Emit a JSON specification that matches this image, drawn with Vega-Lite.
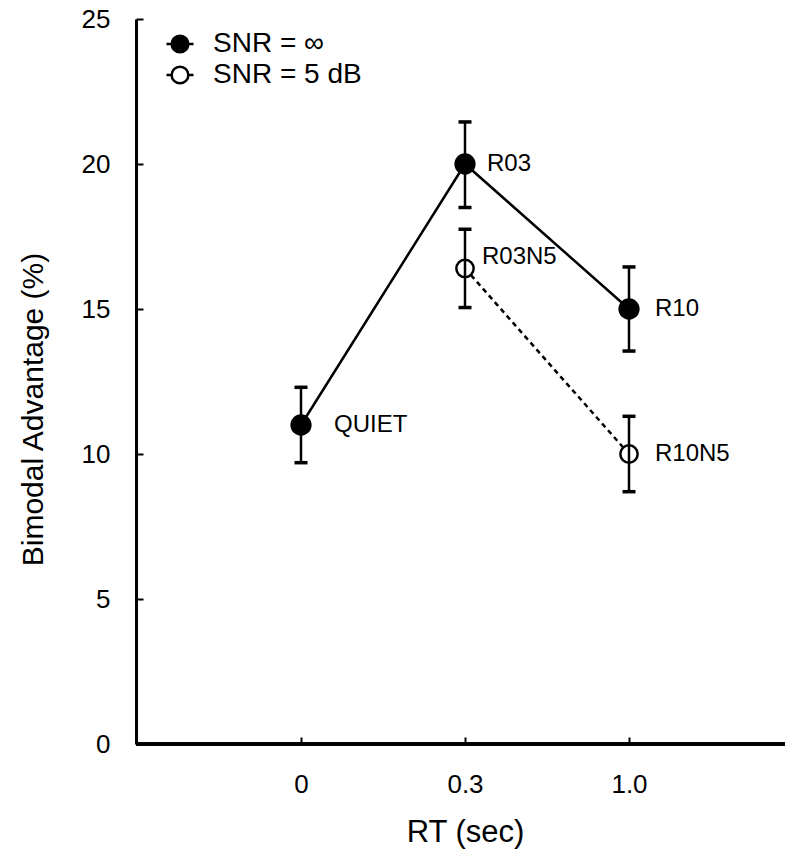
{
  "$schema": "https://vega.github.io/schema/vega-lite/v6.json",
  "autosize": {"type": "none"},
  "padding": {"left": 136, "top": 19, "right": 0, "bottom": 111},
  "width": 649,
  "height": 725,
  "background": "white",
  "config": {
    "view": {"stroke": null},
    "font": "Liberation Sans"
  },
  "data": {
    "values": [
      {"rt": "0", "snr": "SNR = ∞", "label": "QUIET", "adv": 11.0, "lo": 9.7, "hi": 12.3},
      {"rt": "0.3", "snr": "SNR = ∞", "label": "R03", "adv": 20.0, "lo": 18.5, "hi": 21.45},
      {"rt": "1.0", "snr": "SNR = ∞", "label": "R10", "adv": 15.0, "lo": 13.55, "hi": 16.45},
      {"rt": "0.3", "snr": "SNR = 5 dB", "label": "R03N5", "adv": 16.4, "lo": 15.05, "hi": 17.75},
      {"rt": "1.0", "snr": "SNR = 5 dB", "label": "R10N5", "adv": 10.0, "lo": 8.7, "hi": 11.3}
    ]
  },
  "encoding": {
    "x": {
      "field": "rt", "type": "ordinal", "sort": ["0", "0.3", "1.0"],
      "scale": {"type": "point", "range": [165, 493], "padding": 0},
      "axis": {
        "title": "RT (sec)", "titleFontSize": 31, "titleFontWeight": "normal", "titleColor": "black",
        "titlePadding": 20,
        "labelFontSize": 26, "labelColor": "black", "labelAngle": 0, "labelPadding": 34,
        "domain": false, "tickSize": -7, "tickWidth": 2, "tickColor": "black", "grid": false
      }
    }
  },
  "layer": [
    {
      "mark": {"type": "rule", "color": "black", "strokeWidth": 3},
      "encoding": {"x": null, "y": {"datum": 0, "type": "quantitative"}}
    },
    {
      "transform": [{"filter": "datum.snr === 'SNR = ∞'"}],
      "mark": {"type": "line", "color": "black", "strokeWidth": 2.5},
      "encoding": {
        "y": {"field": "adv", "type": "quantitative"}
      }
    },
    {
      "transform": [{"filter": "datum.snr === 'SNR = 5 dB'"}],
      "mark": {"type": "line", "color": "black", "strokeWidth": 2.5, "strokeDash": [5, 4]},
      "encoding": {
        "y": {"field": "adv", "type": "quantitative"}
      }
    },
    {
      "transform": [{"filter": "datum.snr === 'SNR = ∞'"}],
      "mark": {"type": "point", "filled": true, "opacity": 1, "size": 452, "strokeWidth": 0},
      "encoding": {
        "y": {
          "field": "adv", "type": "quantitative",
          "scale": {"domain": [0, 25], "nice": false, "zero": true},
          "axis": {
            "title": "Bimodal Advantage (%)", "titleFontSize": 30, "titleFontWeight": "normal", "titleColor": "black",
            "titlePadding": 33, "titleY": 390,
            "values": [0, 5, 10, 15, 20, 25],
            "labelFontSize": 26, "labelColor": "black", "labelPadding": 33,
            "domainColor": "black", "domainWidth": 3,
            "tickSize": -7, "tickWidth": 2, "tickColor": "black", "grid": false
          }
        },
        "fill": {
          "field": "snr", "type": "nominal",
          "scale": {"domain": ["SNR = ∞", "SNR = 5 dB"], "range": ["black", "white"]},
          "legend": {
            "title": null,
            "orient": "none",
            "legendX": 29,
            "legendY": 10,
            "symbolType": "M-1,0H-0.68M0.68,0H1M-0.62,0A0.62,0.62 0 1 1 0.62,0A0.62,0.62 0 1 1 -0.62,0Z",
            "symbolSize": 729,
            "symbolStrokeColor": "black",
            "symbolStrokeWidth": 2.5,
            "symbolOpacity": 1,
            "labelFontSize": 28,
            "labelColor": "black",
            "labelOffset": 18,
            "rowPadding": 2
          }
        }
      }
    },
    {
      "transform": [{"filter": "datum.snr === 'SNR = 5 dB'"}],
      "mark": {"type": "point", "filled": false, "fill": "white", "opacity": 1, "size": 300, "stroke": "black", "strokeWidth": 2.5},
      "encoding": {
        "y": {"field": "adv", "type": "quantitative"}
      }
    },
    {
      "mark": {"type": "rule", "color": "black", "strokeWidth": 2.5},
      "encoding": {
        "y": {"field": "lo", "type": "quantitative"},
        "y2": {"field": "hi"}
      }
    },
    {
      "mark": {"type": "tick", "color": "black", "opacity": 1, "size": 13, "thickness": 3.5},
      "encoding": {"y": {"field": "lo", "type": "quantitative"}}
    },
    {
      "mark": {"type": "tick", "color": "black", "opacity": 1, "size": 13, "thickness": 3.5},
      "encoding": {"y": {"field": "hi", "type": "quantitative"}}
    },
    {
      "transform": [{"filter": "datum.label === 'QUIET'"}],
      "mark": {"type": "text", "align": "left", "baseline": "middle", "dx": 33, "fontSize": 24, "color": "black"},
      "encoding": {"y": {"field": "adv", "type": "quantitative"}, "text": {"field": "label"}}
    },
    {
      "transform": [{"filter": "datum.label === 'R03'"}],
      "mark": {"type": "text", "align": "left", "baseline": "middle", "dx": 22, "fontSize": 24, "color": "black"},
      "encoding": {"y": {"field": "adv", "type": "quantitative"}, "text": {"field": "label"}}
    },
    {
      "transform": [{"filter": "datum.label === 'R03N5'"}],
      "mark": {"type": "text", "align": "left", "baseline": "middle", "dx": 17, "dy": -11, "fontSize": 24, "color": "black"},
      "encoding": {"y": {"field": "adv", "type": "quantitative"}, "text": {"field": "label"}}
    },
    {
      "transform": [{"filter": "datum.label === 'R10' || datum.label === 'R10N5'"}],
      "mark": {"type": "text", "align": "left", "baseline": "middle", "dx": 26, "fontSize": 24, "color": "black"},
      "encoding": {"y": {"field": "adv", "type": "quantitative"}, "text": {"field": "label"}}
    }
  ]
}
